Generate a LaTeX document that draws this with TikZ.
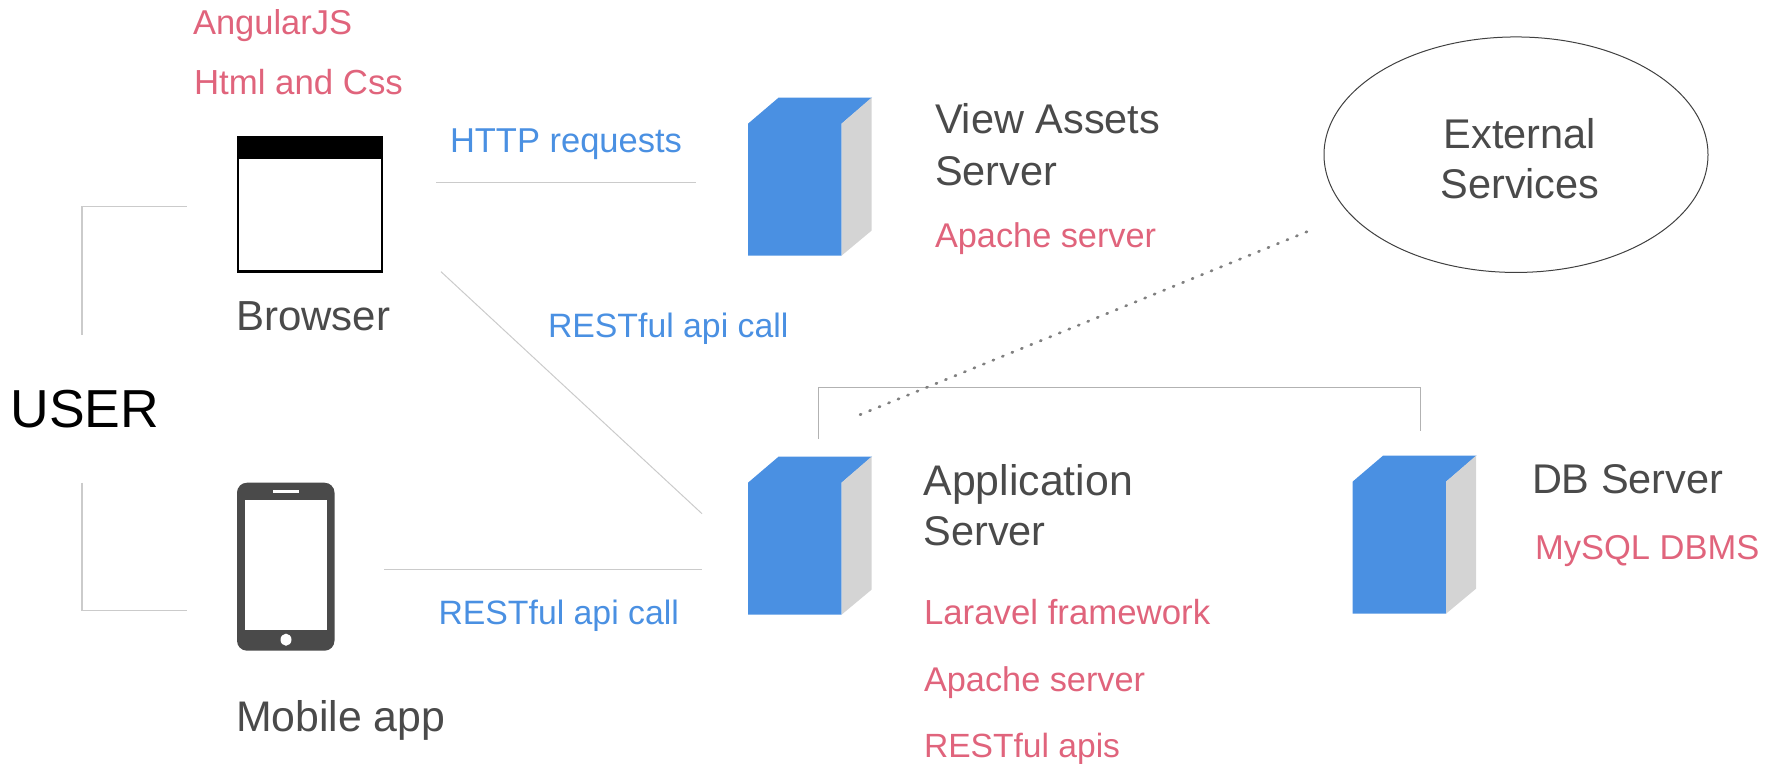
\documentclass[tikz,border=0pt]{standalone}
\usepackage{fontspec}
\setmainfont{Liberation Sans}
\usetikzlibrary{shapes.geometric,calc}
\definecolor{redtxt}{HTML}{E0647C}
\definecolor{bluetxt}{HTML}{4A90E2}
\definecolor{darktxt}{HTML}{4A4A4A}
\definecolor{linegray}{HTML}{CBCBCB}
\definecolor{sidegray}{HTML}{D4D4D4}
\tikzset{
  lbl/.style={anchor=base west,inner sep=0pt,outer sep=0pt},
  fs/.style={font=\fontsize{#1}{#1}\selectfont},
  dark/.style={lbl,text=darktxt,fs=41.5},
  redlbl/.style={lbl,text=redtxt,fs=34.5},
  bluelbl/.style={lbl,text=bluetxt,fs=34.5},
  conn/.style={draw=linegray,line width=1.2pt},
  dots/.style={draw=black!50,line width=2.7pt,line cap=round,dash pattern=on 1.2pt off 9.05pt},
  front/.style={draw=none,inner sep=0pt,outer sep=0pt,anchor=north west,minimum width=93.5pt,minimum height=132pt},
}
\newcommand{\serverbox}[3]{%
  \node[front] (#1) at (#2,#3) {};
  \fill[bluetxt] (#1.south west) -- (#1.north west) -- ++(30.5,-26) -- ++(93.5,0) -- (#1.north east) -- (#1.south east) -- cycle;
  \fill[sidegray] (#1.north east) -- ++(30,-26) -- ++(0,133) -- (#1.south east) -- cycle;
}
\begin{document}
\begin{tikzpicture}[x=1pt,y=-1pt]
\useasboundingbox (0,-0.7) rectangle (1781,764.3);

% named free ends
\coordinate (b1) at (82,334);
\coordinate (b2) at (82,206);
\coordinate (b3) at (187,206);
\coordinate (m1) at (82,482);
\coordinate (m2) at (82,610);
\coordinate (m3) at (187,610);
\coordinate (h1) at (436,182);
\coordinate (h2) at (696,182);
\coordinate (r1) at (441,271);
\coordinate (r2) at (702,513);
\coordinate (l1) at (384,569);
\coordinate (l2) at (702,569);
\coordinate (a1) at (818,438);
\coordinate (a2) at (818,386.5);
\coordinate (a3) at (1420,386.5);
\coordinate (a4) at (1420,430);
\coordinate (d1) at (860,414);
\coordinate (d2) at (1307,231);

\draw[conn] (b1) -- (b2) -- (b3);
\draw[conn] (m1) -- (m2) -- (m3);
\draw[conn] (h1) -- (h2);
\draw[conn,line width=1pt] (r1) -- (r2);
\draw[conn] (l1) -- (l2);
\draw[conn,line width=1pt,draw=black!30] (a1) -- (a2) -- (a3) -- (a4);

% user
\node[lbl,text=black,fs=53.5] (user) at (10.5,427) {USER};

% browser
\node[draw=black,line width=2.6pt,fill=white,inner sep=0pt,outer sep=0pt,anchor=north west,minimum width=144pt,minimum height=134pt] (browser) at (238,137) {};
\fill[black] ($(browser.north west)+(-1.3,-1.3)$) rectangle ($(browser.north east)+(1.3,21)$);
\node[dark,fs=42] (browsertxt) at (236,330) {Browser};
\node[redlbl] (angular) at (193,34) {AngularJS};
\node[redlbl,fs=34.8] (html) at (194,94) {Html and Css};
\node[bluelbl] (http) at (450,151.5) {HTTP requests};
\node[bluelbl,fs=33.8] (rest1) at (548,337) {RESTful api call};
\node[bluelbl,fs=33.8] (rest2) at (438.5,624) {RESTful api call};

% phone
\node[fill=darktxt,rounded corners=10pt,inner sep=0pt,outer sep=0pt,anchor=north west,minimum width=97.5pt,minimum height=168pt] (phone) at (237,482) {};
\node[fill=white,inner sep=0pt,outer sep=0pt,anchor=north west,minimum width=82pt,minimum height=130pt] (screen) at (245,499) {};
\node[fill=white,inner sep=0pt,minimum width=26pt,minimum height=2.6pt] (speaker) at (286,491) {};
\node[fill=white,circle,inner sep=0pt,minimum size=11pt,yscale=1.1] (homebtn) at (286,639) {};
\node[dark,fs=42.8] (mobile) at (236,730.5) {Mobile app};

% servers
\serverbox{viewsrv}{748}{123}
\serverbox{appsrv}{748}{482}
\serverbox{dbsrv}{1352.5}{481}

\node[dark] (view1) at (935,133) {View Assets};
\node[dark] (view2) at (935,184.5) {Server};
\node[redlbl,fs=34.3] (view3) at (935,246.5) {Apache server};
\node[dark,fs=42.8] (app1) at (923.5,494.5) {Application};
\node[dark] (app2) at (923.5,545) {Server};
\node[redlbl,fs=34.8] (app3) at (924,624) {Laravel framework};
\node[redlbl,fs=34.3] (app4) at (924,691) {Apache server};
\node[redlbl,fs=33.6] (app5) at (924,756.5) {RESTful apis};
\node[dark] (db1) at (1532,493) {DB Server};
\node[redlbl] (db2) at (1535,559) {MySQL DBMS};

% external
\node[draw=black!75,line width=1pt,ellipse,inner sep=0pt,outer sep=0pt,minimum width=384pt,minimum height=235.5pt] (ext) at (1516,154) {};
\node[lbl,anchor=base,text=darktxt,fs=41.5] (ext1) at (1520,148) {External};
\node[lbl,anchor=base,text=darktxt,fs=41.5] (ext2) at (1520,198) {Services};

\draw[dots] (d1) -- (d2);
\end{tikzpicture}
\end{document}
